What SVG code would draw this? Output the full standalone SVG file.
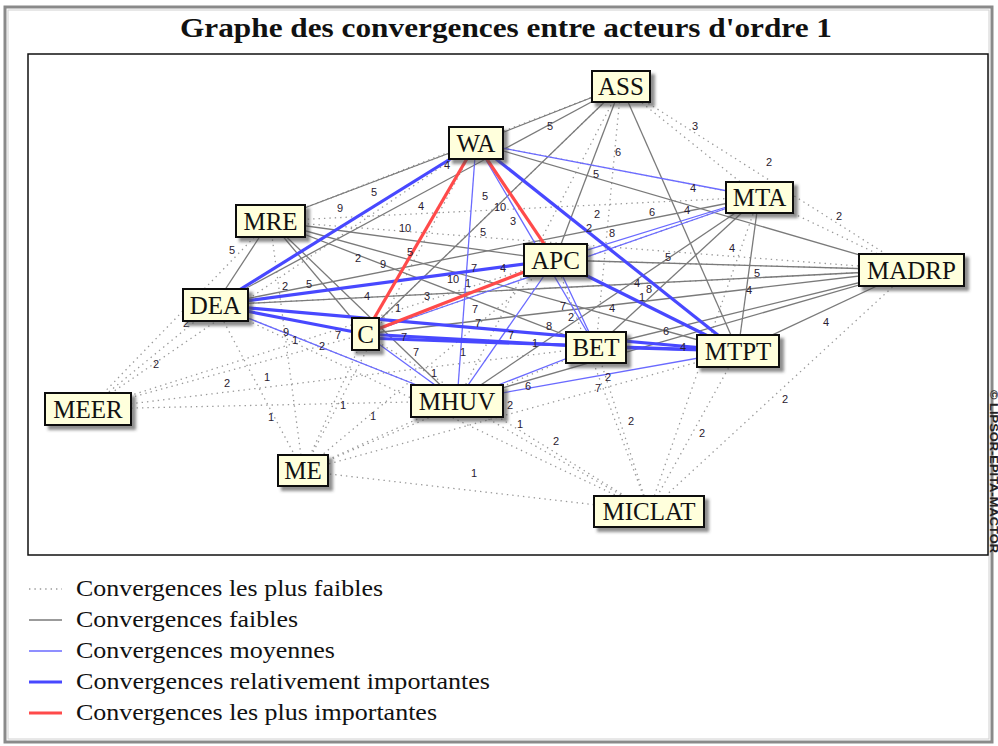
<svg xmlns="http://www.w3.org/2000/svg" width="998" height="746" viewBox="0 0 998 746">
  <defs>
    <filter id="shadow" x="-20%" y="-20%" width="150%" height="160%">
      <feDropShadow dx="4" dy="4" stdDeviation="1.6" flood-color="#444" flood-opacity="0.6"/>
    </filter>
    <style>
      .e0 { stroke: #9a9a9a; stroke-width: 1.3; stroke-dasharray: 1.4 4; fill: none; }
      .e1 { stroke: #7a7a7a; stroke-width: 1.3; fill: none; }
      .e2 { stroke: #6a6aff; stroke-width: 1.3; fill: none; }
      .e3 { stroke: #4848ff; stroke-width: 3.2; fill: none; }
      .e4 { stroke: #ff4a4a; stroke-width: 3.2; fill: none; }
      .node rect { fill: #ffffdc; stroke: #111; stroke-width: 2; filter: url(#shadow); }
      .node text { font-family: "Liberation Serif", "Times New Roman", serif; font-size: 25px; fill: #111; text-anchor: middle; }
      .lbl text { font-family: "Liberation Sans", Arial, sans-serif; font-size: 11px; fill: #2a2030; text-anchor: middle; }
      .legend text { font-family: "Liberation Serif", "Times New Roman", serif; font-size: 23px; fill: #111; }
    </style>
  </defs>

  <rect x="0" y="0" width="998" height="746" fill="#ffffff"/>
  <!-- outer frame -->
  <rect x="5" y="7" width="987" height="735" fill="none" stroke="#8a8a8a" stroke-width="3"/>
  <rect x="8" y="10" width="981" height="729" fill="none" stroke="#d0d0d0" stroke-width="1"/>

  <text x="506" y="37" font-family="Liberation Serif, Times New Roman, serif" font-size="28" font-weight="bold" fill="#111" text-anchor="middle" textLength="652" lengthAdjust="spacingAndGlyphs">Graphe des convergences entre acteurs d'ordre 1</text>

  <!-- plot area -->
  <rect x="28" y="54" width="960" height="501" fill="#ffffff" stroke="#111" stroke-width="1.5"/>

  <g id="connectors">
    <!-- weakest convergences (dotted) -->
    <line class="e0" x1="621" y1="86" x2="759" y2="197"/>
    <line class="e0" x1="621" y1="86" x2="911" y2="270"/>
    <line class="e0" x1="759" y1="197" x2="911" y2="270"/>
    <line class="e0" x1="621" y1="86" x2="596" y2="347"/>
    <line class="e0" x1="621" y1="86" x2="365" y2="334"/>
    <line class="e0" x1="621" y1="86" x2="457" y2="401"/>
    <line class="e0" x1="621" y1="86" x2="270" y2="221"/>
    <line class="e0" x1="476" y1="143" x2="759" y2="197"/>
    <line class="e0" x1="270" y1="221" x2="759" y2="197"/>
    <line class="e0" x1="270" y1="221" x2="911" y2="270"/>
    <line class="e0" x1="555" y1="260" x2="911" y2="270"/>
    <line class="e0" x1="759" y1="197" x2="365" y2="334"/>
    <line class="e0" x1="215" y1="305" x2="911" y2="270"/>
    <line class="e0" x1="88" y1="409" x2="270" y2="221"/>
    <line class="e0" x1="88" y1="409" x2="215" y2="305"/>
    <line class="e0" x1="88" y1="409" x2="365" y2="334"/>
    <line class="e0" x1="88" y1="409" x2="476" y2="143"/>
    <line class="e0" x1="88" y1="409" x2="457" y2="401"/>
    <line class="e0" x1="88" y1="409" x2="555" y2="260"/>
    <line class="e0" x1="88" y1="409" x2="596" y2="347"/>
    <line class="e0" x1="303" y1="471" x2="215" y2="305"/>
    <line class="e0" x1="303" y1="471" x2="270" y2="221"/>
    <line class="e0" x1="303" y1="471" x2="365" y2="334"/>
    <line class="e0" x1="303" y1="471" x2="457" y2="401"/>
    <line class="e0" x1="303" y1="471" x2="555" y2="260"/>
    <line class="e0" x1="303" y1="471" x2="596" y2="347"/>
    <line class="e0" x1="303" y1="471" x2="649" y2="511"/>
    <line class="e0" x1="303" y1="471" x2="476" y2="143"/>
    <line class="e0" x1="303" y1="471" x2="738" y2="351"/>
    <line class="e0" x1="649" y1="511" x2="457" y2="401"/>
    <line class="e0" x1="649" y1="511" x2="596" y2="347"/>
    <line class="e0" x1="649" y1="511" x2="738" y2="351"/>
    <line class="e0" x1="649" y1="511" x2="911" y2="270"/>
    <line class="e0" x1="649" y1="511" x2="365" y2="334"/>
    <line class="e0" x1="649" y1="511" x2="555" y2="260"/>
    <line class="e0" x1="649" y1="511" x2="215" y2="305"/>
    <line class="e0" x1="649" y1="511" x2="759" y2="197"/>
    <line class="e0" x1="215" y1="305" x2="457" y2="401"/>
    <line class="e0" x1="270" y1="221" x2="476" y2="143"/>

    <!-- weak convergences -->
    <line class="e1" x1="476" y1="143" x2="621" y2="86"/>
    <line class="e1" x1="270" y1="221" x2="476" y2="143"/>
    <line class="e1" x1="270" y1="221" x2="215" y2="305"/>
    <line class="e1" x1="270" y1="221" x2="365" y2="334"/>
    <line class="e1" x1="270" y1="221" x2="457" y2="401"/>
    <line class="e1" x1="270" y1="221" x2="555" y2="260"/>
    <line class="e1" x1="270" y1="221" x2="738" y2="351"/>
    <line class="e1" x1="270" y1="221" x2="596" y2="347"/>
    <line class="e1" x1="215" y1="305" x2="621" y2="86"/>
    <line class="e1" x1="365" y1="334" x2="621" y2="86"/>
    <line class="e1" x1="621" y1="86" x2="555" y2="260"/>
    <line class="e1" x1="621" y1="86" x2="738" y2="351"/>
    <line class="e1" x1="476" y1="143" x2="911" y2="270"/>
    <line class="e1" x1="759" y1="197" x2="738" y2="351"/>
    <line class="e1" x1="759" y1="197" x2="596" y2="347"/>
    <line class="e1" x1="759" y1="197" x2="457" y2="401"/>
    <line class="e1" x1="759" y1="197" x2="215" y2="305"/>
    <line class="e1" x1="911" y1="270" x2="555" y2="260"/>
    <line class="e1" x1="911" y1="270" x2="215" y2="305"/>
    <line class="e1" x1="911" y1="270" x2="365" y2="334"/>
    <line class="e1" x1="911" y1="270" x2="596" y2="347"/>
    <line class="e1" x1="911" y1="270" x2="738" y2="351"/>
    <line class="e1" x1="911" y1="270" x2="457" y2="401"/>

    <!-- medium convergences -->
    <line class="e2" x1="476" y1="143" x2="759" y2="197"/>
    <line class="e2" x1="476" y1="143" x2="457" y2="401"/>
    <line class="e2" x1="476" y1="143" x2="596" y2="347"/>
    <line class="e2" x1="555" y1="260" x2="759" y2="197"/>
    <line class="e2" x1="365" y1="334" x2="759" y2="197"/>
    <line class="e2" x1="555" y1="260" x2="596" y2="347"/>
    <line class="e2" x1="555" y1="260" x2="457" y2="401"/>
    <line class="e2" x1="365" y1="334" x2="457" y2="401"/>
    <line class="e2" x1="215" y1="305" x2="457" y2="401"/>
    <line class="e2" x1="457" y1="401" x2="596" y2="347"/>
    <line class="e2" x1="457" y1="401" x2="738" y2="351"/>

    <!-- relatively important convergences -->
    <line class="e3" x1="215" y1="305" x2="476" y2="143"/>
    <line class="e3" x1="476" y1="143" x2="738" y2="351"/>
    <line class="e3" x1="215" y1="305" x2="555" y2="260"/>
    <line class="e3" x1="555" y1="260" x2="738" y2="351"/>
    <line class="e3" x1="215" y1="305" x2="365" y2="334"/>
    <line class="e3" x1="215" y1="305" x2="738" y2="351"/>
    <line class="e3" x1="365" y1="334" x2="596" y2="347"/>
    <line class="e3" x1="365" y1="338" x2="738" y2="351"/>
    <line class="e3" x1="596" y1="347" x2="738" y2="351"/>

    <!-- most important convergences -->
    <line class="e4" x1="476" y1="143" x2="365" y2="334"/>
    <line class="e4" x1="476" y1="143" x2="555" y2="260"/>
    <line class="e4" x1="365" y1="334" x2="555" y2="260"/>
  </g>

  <g id="edge-labels" class="lbl">
    <text x="447" y="169">4</text><text x="374" y="196">5</text><text x="340" y="212">9</text>
    <text x="421" y="210">4</text><text x="405" y="232">10</text><text x="485" y="200">5</text>
    <text x="500" y="211">10</text><text x="513" y="225">3</text><text x="483" y="236">5</text>
    <text x="232" y="254">5</text><text x="410" y="256">5</text><text x="550" y="130">5</text>
    <text x="618" y="156">6</text><text x="695" y="130">3</text><text x="769" y="166">2</text>
    <text x="596" y="178">5</text><text x="693" y="192">4</text><text x="597" y="218">2</text>
    <text x="652" y="216">6</text><text x="687" y="214">4</text><text x="839" y="220">2</text>
    <text x="589" y="232">2</text><text x="612" y="237">8</text><text x="732" y="252">4</text>
    <text x="668" y="261">5</text><text x="757" y="277">5</text><text x="749" y="294">4</text>
    <text x="503" y="272">4</text><text x="474" y="272">7</text><text x="358" y="262">2</text>
    <text x="383" y="268">9</text><text x="285" y="290">2</text><text x="309" y="288">5</text>
    <text x="367" y="300">4</text><text x="453" y="283">10</text><text x="468" y="287">1</text>
    <text x="427" y="300">3</text><text x="398" y="312">1</text><text x="475" y="313">7</text>
    <text x="478" y="327">7</text><text x="186" y="327">2</text><text x="286" y="336">9</text>
    <text x="295" y="344">1</text><text x="338" y="339">7</text><text x="322" y="350">2</text>
    <text x="404" y="341">7</text><text x="416" y="356">7</text><text x="434" y="377">1</text>
    <text x="511" y="339">7</text><text x="535" y="347">1</text><text x="463" y="356">1</text>
    <text x="563" y="310">7</text><text x="571" y="321">2</text><text x="549" y="330">8</text>
    <text x="612" y="312">4</text><text x="637" y="287">4</text><text x="642" y="301">1</text>
    <text x="649" y="293">8</text><text x="666" y="335">6</text><text x="683" y="351">4</text>
    <text x="826" y="326">4</text><text x="528" y="390">6</text><text x="608" y="381">2</text>
    <text x="598" y="392">7</text><text x="510" y="409">2</text><text x="520" y="428">1</text>
    <text x="556" y="445">2</text><text x="631" y="425">2</text><text x="785" y="403">2</text>
    <text x="702" y="437">2</text><text x="156" y="368">2</text><text x="267" y="381">1</text>
    <text x="227" y="387">2</text><text x="343" y="409">1</text><text x="373" y="420">1</text>
    <text x="271" y="421">1</text><text x="474" y="477">1</text>
  </g>

  <g id="node-ASS" class="node"><rect x="592" y="71" width="58" height="31"/><text x="621" y="95">ASS</text></g>
  <g id="node-WA" class="node"><rect x="449" y="127" width="54" height="32"/><text x="476" y="152">WA</text></g>
  <g id="node-MTA" class="node"><rect x="726" y="182" width="67" height="31"/><text x="759.5" y="206">MTA</text></g>
  <g id="node-MRE" class="node"><rect x="236" y="205" width="69" height="32"/><text x="270.5" y="230">MRE</text></g>
  <g id="node-APC" class="node"><rect x="524" y="244" width="63" height="32"/><text x="555.5" y="269">APC</text></g>
  <g id="node-MADRP" class="node"><rect x="859" y="254" width="105" height="32"/><text x="911.5" y="279">MADRP</text></g>
  <g id="node-DEA" class="node"><rect x="183" y="289" width="65" height="32"/><text x="215.5" y="314">DEA</text></g>
  <g id="node-C" class="node"><rect x="352" y="318" width="27" height="32"/><text x="365.5" y="343">C</text></g>
  <g id="node-BET" class="node"><rect x="566" y="332" width="60" height="31"/><text x="596" y="356">BET</text></g>
  <g id="node-MTPT" class="node"><rect x="697" y="335" width="82" height="32"/><text x="738" y="360">MTPT</text></g>
  <g id="node-MEER" class="node"><rect x="45" y="393" width="86" height="32"/><text x="88" y="418">MEER</text></g>
  <g id="node-MHUV" class="node"><rect x="411" y="385" width="92" height="32"/><text x="457" y="410">MHUV</text></g>
  <g id="node-ME" class="node"><rect x="278" y="455" width="50" height="31"/><text x="303" y="479">ME</text></g>
  <g id="node-MICLAT" class="node"><rect x="594" y="496" width="110" height="31"/><text x="649" y="520">MICLAT</text></g>

  <text x="0" y="0" transform="translate(990,390) rotate(90)" font-family="Liberation Sans, Arial, sans-serif" font-size="10" font-weight="bold" fill="#222" textLength="163" lengthAdjust="spacingAndGlyphs">© LIPSOR-EPITA-MACTOR</text>

  <g id="legend" class="legend">
    <line class="e0" x1="29" y1="589" x2="62" y2="589"/>
    <text x="76" y="596" textLength="307" lengthAdjust="spacingAndGlyphs">Convergences les plus faibles</text>
    <line class="e1" x1="29" y1="620" x2="62" y2="620"/>
    <text x="76" y="627" textLength="222" lengthAdjust="spacingAndGlyphs">Convergences faibles</text>
    <line class="e2" x1="29" y1="651" x2="62" y2="651"/>
    <text x="76" y="658" textLength="259" lengthAdjust="spacingAndGlyphs">Convergences moyennes</text>
    <line class="e3" x1="29" y1="682" x2="62" y2="682"/>
    <text x="76" y="689" textLength="414" lengthAdjust="spacingAndGlyphs">Convergences relativement importantes</text>
    <line class="e4" x1="29" y1="713" x2="62" y2="713"/>
    <text x="76" y="720" textLength="361" lengthAdjust="spacingAndGlyphs">Convergences les plus importantes</text>
  </g>
</svg>
